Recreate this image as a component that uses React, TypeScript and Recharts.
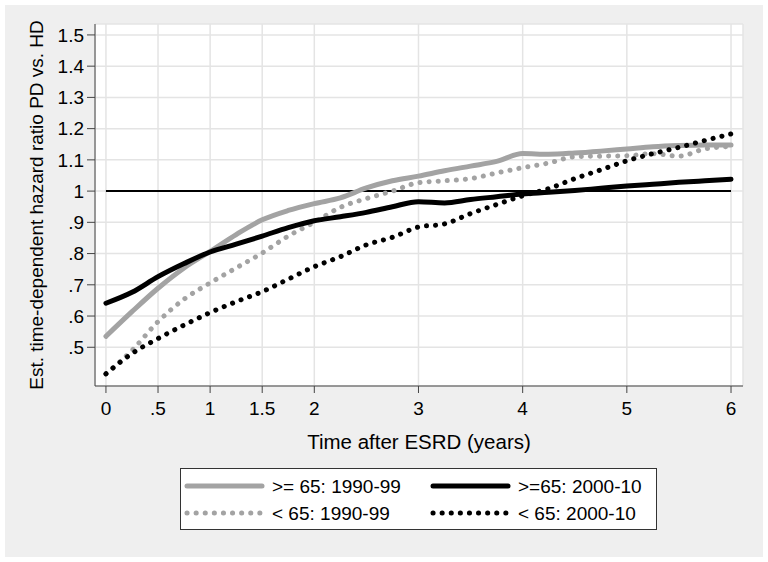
import { LineChart, Line, XAxis, YAxis, CartesianGrid, ReferenceLine, Legend, Label } from 'recharts';

const years = [0, 0.25, 0.5, 0.75, 1, 1.25, 1.5, 1.75, 2, 2.25, 2.5, 2.75, 3, 3.25, 3.5, 3.75, 4, 4.25, 4.5, 4.75, 5, 5.25, 5.5, 5.75, 6];

// >= 65, 1990-99
const old9099 = [0.535, 0.614, 0.689, 0.754, 0.807, 0.861, 0.908, 0.938, 0.96, 0.978, 1.01, 1.033, 1.048, 1.065, 1.08, 1.095, 1.12, 1.118, 1.122, 1.128, 1.135, 1.142, 1.146, 1.148, 1.148];
// >= 65, 2000-10
const old0010 = [0.641, 0.676, 0.726, 0.768, 0.805, 0.83, 0.856, 0.883, 0.905, 0.918, 0.932, 0.95, 0.966, 0.962, 0.973, 0.982, 0.991, 0.996, 1.002, 1.009, 1.016, 1.022, 1.028, 1.033, 1.038];
// < 65, 1990-99
const young9099 = [0.415, 0.49, 0.582, 0.654, 0.706, 0.754, 0.802, 0.856, 0.9, 0.948, 0.976, 1.0, 1.027, 1.033, 1.04, 1.058, 1.075, 1.09, 1.11, 1.112, 1.113, 1.12, 1.112, 1.135, 1.143];
// < 65, 2000-10
const young0010 = [0.415, 0.48, 0.528, 0.571, 0.611, 0.646, 0.678, 0.718, 0.758, 0.79, 0.828, 0.852, 0.885, 0.895, 0.928, 0.957, 0.985, 1.008, 1.04, 1.068, 1.097, 1.12, 1.14, 1.162, 1.183];

const xTicks = [0, 0.5, 1, 1.5, 2, 3, 4, 5, 6];
const yTicks = [0.5, 0.6, 0.7, 0.8, 0.9, 1, 1.1, 1.2, 1.3, 1.4, 1.5];

const data = years.map((t, i) => ({
  t,
  a: old9099[i],
  b: old0010[i],
  c: young9099[i],
  d: young0010[i],
}));

const GRAY = '#a3a3a3';
const FONT = '"Liberation Sans", Arial, sans-serif';

const series = [
  { key: 'a', name: '>= 65: 1990-99', color: GRAY, dash: undefined },
  { key: 'c', name: '< 65: 1990-99', color: GRAY, dash: '0.1 9' },
  { key: 'b', name: '>=65: 2000-10', color: '#000', dash: undefined },
  { key: 'd', name: '< 65: 2000-10', color: '#000', dash: '0.1 9' },
];

const fmt = (v: number) => {
  const s = String(Math.round(v * 10) / 10);
  return s.startsWith('0.') ? s.slice(1) : s;
};

function LegendBox() {
  // 2x2 grid: left column 1990-99, right column 2000-10
  const cells = [
    { s: series[0], col: 0, row: 0 },
    { s: series[2], col: 1, row: 0 },
    { s: series[1], col: 0, row: 1 },
    { s: series[3], col: 1, row: 1 },
  ];
  return (
    <svg width={477} height={62} style={{ display: 'block' }}>
      <rect x={0.5} y={0.5} width={476} height={61} fill="#fff" stroke="#333" />
      {cells.map(({ s, col, row }) => {
        const x0 = col === 0 ? 7 : 253;
        const y = row === 0 ? 18 : 45;
        return (
          <g key={s.key}>
            <line x1={x0} x2={x0 + 75} y1={y} y2={y} stroke={s.color} strokeWidth={5}
              strokeLinecap="round" strokeDasharray={s.dash} />
            <text x={x0 + 85} y={y} dominantBaseline="central" fontSize={19} fontFamily={FONT} fill="#000">
              {s.name}
            </text>
          </g>
        );
      })}
    </svg>
  );
}

export default function App() {
  return (
    <div style={{ position: 'absolute', left: 0, top: 0, width: 768, height: 562, background: '#fff' }}>
      <div style={{ position: 'absolute', left: 5, top: 5, width: 758, height: 552, background: '#efefef' }} />
      <div style={{ position: 'absolute', left: 0, top: 0 }}>
        <LineChart width={768} height={562} data={data} margin={{ top: 24, right: 25, bottom: 146, left: 35 }}>
          <CartesianGrid stroke="#e4e4e4" strokeWidth={1.5} fill="#fff" fillOpacity={1} />
          <XAxis dataKey="t" type="number" domain={[-0.105, 6.115]} ticks={xTicks} tickFormatter={fmt}
            allowDataOverflow height={30} tickSize={7} tickMargin={9}
            tick={{ fill: '#000', fontSize: 19, fontFamily: FONT }}
            axisLine={{ stroke: '#444' }} tickLine={{ stroke: '#444' }}>
            <Label content={({ viewBox }: any) => (
              <text x={viewBox.x + viewBox.width / 2} y={viewBox.y + 55} textAnchor="middle"
                dominantBaseline="central" fontSize={20.5} fontFamily={FONT} fill="#000">
                Time after ESRD (years)
              </text>
            )} />
          </XAxis>
          <YAxis type="number" domain={[0.376, 1.535]} ticks={yTicks} tickFormatter={fmt}
            allowDataOverflow width={60} tickSize={8} tickMargin={3}
            tick={{ fill: '#000', fontSize: 19, fontFamily: FONT }}
            axisLine={{ stroke: '#444' }} tickLine={{ stroke: '#444' }}>
            <Label content={({ viewBox }: any) => {
              const cx = viewBox.x + 1;
              const cy = viewBox.y + viewBox.height / 2;
              return (
                <text x={cx} y={cy} transform={`rotate(-90 ${cx} ${cy})`} textAnchor="middle"
                  dominantBaseline="central" fontSize={19} fontFamily={FONT} fill="#000">
                  Est. time-dependent hazard ratio PD vs. HD
                </text>
              );
            }} />
          </YAxis>
          <ReferenceLine segment={[{ x: 0, y: 1 }, { x: 6, y: 1 }]} stroke="#000" strokeWidth={2} />
          {series.map((s) => (
            <Line key={s.key} dataKey={s.key} name={s.name} type="monotone" stroke={s.color}
              strokeWidth={5} strokeDasharray={s.dash} strokeLinecap="round" strokeLinejoin="round"
              dot={false} activeDot={false} isAnimationActive={false} />
          ))}
          <Legend layout="horizontal" verticalAlign="middle" align="center"
            wrapperStyle={{ left: 180, top: 468, width: 477, height: 62 }}
            content={() => <LegendBox />} />
        </LineChart>
      </div>
    </div>
  );
}
